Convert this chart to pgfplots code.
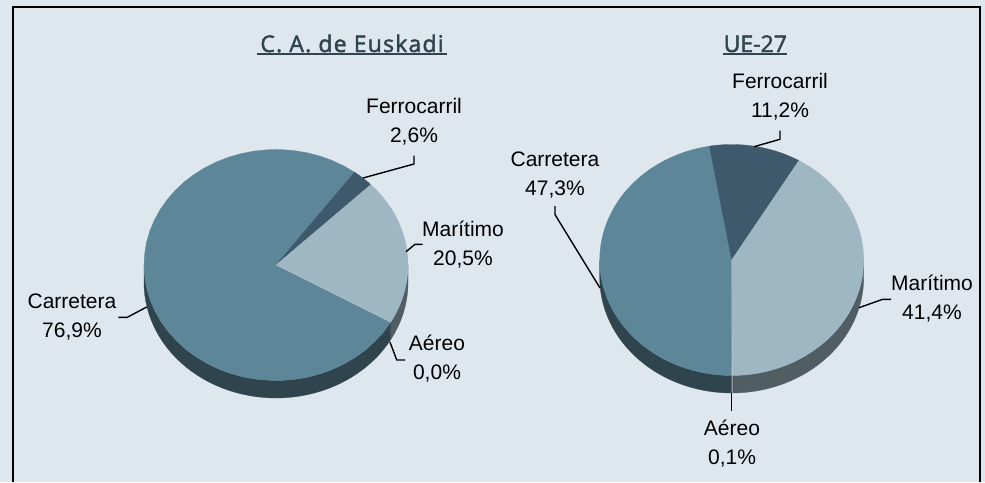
\documentclass[border=0pt]{standalone}
\usepackage{fontspec}
\usepackage{pgfplots}
\pgfplotsset{compat=1.18}
\setmainfont{Liberation Sans}
\newfontfamily\titlefont[LetterSpace=5.2,FakeBold=2]{Open Sans}
\newfontfamily\titlefontb[FakeBold=2]{Open Sans}
\definecolor{bgc}{HTML}{DFE7EE}
\definecolor{carr}{HTML}{5E8699}
\definecolor{ferr}{HTML}{3E586C}
\definecolor{mari}{HTML}{9FB7C3}
\definecolor{carrs}{HTML}{2F444C}
\definecolor{maris}{HTML}{505E64}
\definecolor{titlec}{HTML}{2F444C}
% arc points, clockwise angles from the top: cx cy rx ry a1 a2
\newcommand{\arcpts}[6]{%
  \pgfmathsetmacro\da{((#6)-(#5))/48}%
  \foreach \i in {0,...,48}{%
    \pgfmathsetmacro\t{(#5)+\i*\da}%
    \pgfmathsetmacro\px{#1+#3*sin(\t)}%
    \pgfmathsetmacro\py{#2-#4*cos(\t)}%
    \xdef\coords{\coords (\px,\py)}%
  }}
% cx cy a1 a2 colour : top wedge
\newcommand{\piewedge}[5]{%
  \xdef\coords{(#1,#2)}%
  \arcpts{#1}{#2}{132}{115.5}{#3}{#4}%
  \edef\tmp{\noexpand\addplot[fill=#5,draw=#5,line width=0.3pt] coordinates {\coords} -- cycle;}%
  \tmp}
% cx cy depth a1 a2 colour : visible side
\newcommand{\sidewall}[6]{%
  \xdef\coords{}%
  \arcpts{#1}{#2}{132}{115.5}{#4}{#5}%
  \pgfmathsetmacro\cyb{#2+#3}%
  \arcpts{#1}{\cyb}{132}{115.5}{#5}{#4}%
  \edef\tmp{\noexpand\addplot[fill=#6,draw=#6,line width=0.3pt] coordinates {\coords} -- cycle;}%
  \tmp}
\newcommand{\lead}[1]{\addplot[black,line width=1.4pt,line join=round] coordinates {#1};}
\newcommand{\lab}[4]{%
  \node[anchor=base,inner sep=0pt,font=\fontsize{21}{21}\selectfont] at (axis cs:#1,#2) {#3};%
  \node[anchor=base,inner sep=0pt,font=\fontsize{21}{21}\selectfont] at (axis cs:#1,\the\numexpr#2+29\relax) {#4};}
\begin{document}
\begin{tikzpicture}
\begin{axis}[
  scale only axis, width=985pt, height=482pt,
  xmin=0, xmax=985, ymin=0, ymax=482, y dir=reverse,
  hide axis, clip=false]
\addplot[fill=bgc,draw=none] coordinates {(0,0) (985,0) (985,482) (0,482)} -- cycle;

% C. A. de Euskadi: Carretera 76.9, Ferrocarril 2.6, Maritimo 20.5, Aereo 0.0; first slice at 119.7 deg
\sidewall{276}{265}{17.5}{90}{119.7}{maris}
\sidewall{276}{265}{17.5}{119.7}{270}{carrs}
\piewedge{276}{265}{119.7}{396.54}{carr}
\piewedge{276}{265}{396.54}{405.9}{ferr}
\piewedge{276}{265}{405.9}{479.7}{mari}

% UE-27: Carretera 47.3, Ferrocarril 11.2, Maritimo 41.4, Aereo 0.1; first slice at 180 deg
\sidewall{731.7}{260}{17.5}{90}{179.64}{maris}
\sidewall{731.7}{260}{17.5}{180}{270}{carrs}
\piewedge{731.7}{260}{180}{350.28}{carr}
\piewedge{731.7}{260}{350.28}{390.6}{ferr}
\piewedge{731.7}{260}{390.6}{539.64}{mari}

\lead{(363,178) (414,164) (414,155.7)}
\lead{(406,251.7) (415,244.3) (422.7,244.3)}
\lead{(390,342) (396.7,360) (405,360)}
\lead{(146.7,307) (127.3,317.3) (118.3,317.3)}
\lead{(754,146.7) (780,139.3) (780,130.7)}
\lead{(600,288) (555,214.6) (555,206)}
\lead{(859,307.7) (882.7,299.3) (891,299.3)}
\lead{(731.7,392.7) (731.7,410.7)}

\addplot[black,line width=1.8pt] coordinates {(13.3,482) (13.3,6.8) (979.7,6.8) (979.7,482)};
\addplot[titlec,line width=1.5pt] coordinates {(257.3,54.2) (446.7,54.2)};
\addplot[titlec,line width=1.5pt] coordinates {(723.3,54.2) (787.3,54.2)};

\node[anchor=base,inner sep=0pt,text=titlec,font=\titlefont\fontsize{23}{23}\selectfont] at (axis cs:352,52) {C. A. de Euskadi};
\node[anchor=base,inner sep=0pt,text=titlec,font=\titlefontb\fontsize{23}{23}\selectfont] at (axis cs:755.3,52) {UE-27};

\lab{414}{113}{Ferrocarril}{2,6\%}
\lab{463}{236}{Marítimo}{20,5\%}
\lab{437}{350}{Aéreo}{0,0\%}
\lab{72}{308}{Carretera}{76,9\%}
\lab{780}{88}{Ferrocarril}{11,2\%}
\lab{555}{166}{Carretera}{47,3\%}
\lab{932}{290}{Marítimo}{41,4\%}
\lab{732}{435}{Aéreo}{0,1\%}
\end{axis}
\end{tikzpicture}
\end{document}
